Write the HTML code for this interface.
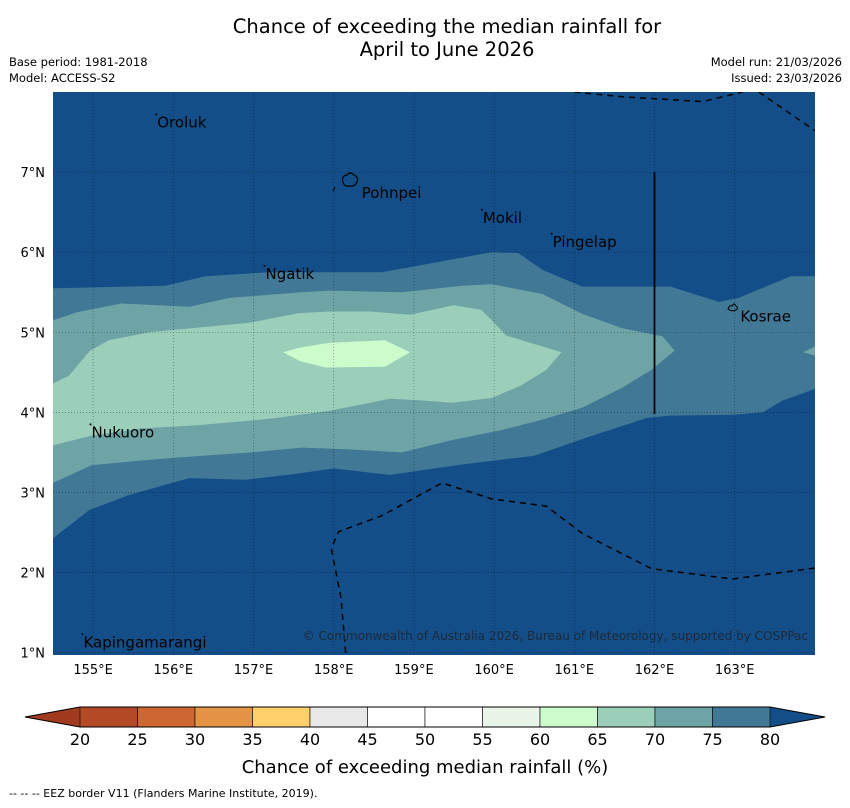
<!DOCTYPE html>
<html><head><meta charset="utf-8"><style>
body{margin:0;background:#fff;font-family:"DejaVu Sans","Liberation Sans",sans-serif;}
svg text{font-family:"DejaVu Sans","Liberation Sans",sans-serif;}
</style></head><body>
<svg id="c" width="850" height="804" viewBox="0 0 850 804" xmlns="http://www.w3.org/2000/svg">
<text x="447" y="33" font-size="19.5" text-anchor="middle">Chance of exceeding the median rainfall for</text>
<text x="447" y="56" font-size="19.5" text-anchor="middle">April to June 2026</text>
<text x="9" y="66" font-size="11.5">Base period: 1981-2018</text>
<text x="9" y="82" font-size="11.5">Model: ACCESS-S2</text>
<text x="842" y="66" font-size="11.5" text-anchor="end">Model run: 21/03/2026</text>
<text x="842" y="82" font-size="11.5" text-anchor="end">Issued: 23/03/2026</text>
<defs><clipPath id="mc"><rect x="53" y="92" width="762" height="563"/></clipPath></defs>
<g id="map" clip-path="url(#mc)">
<rect x="53" y="92" width="762" height="563" fill="#144e88"/>
</g>
<g id="axes"></g>
<text x="808" y="640" font-size="12" fill="#1a2a3a" text-anchor="end">© Commonwealth of Australia 2026, Bureau of Meteorology, supported by COSPPac</text>
<g id="cbar"></g>
<text x="425" y="773" font-size="18" text-anchor="middle">Chance of exceeding median rainfall (%)</text>
<text x="9" y="797" font-size="11">--  --  -- EEZ border V11 (Flanders Marine Institute, 2019).</text>
</svg>
<script>
const levels=[20,25,30,35,40,45,50,55,60,65,70,75,80];
const levelColors=["#b34a26","#cd6631","#e39545","#fecf6a","#e8e8e8","#ffffff","#ffffff","#eaf5ea","#ccfccc","#9ccfba","#6fa4a6","#417896"];
const lowColor="#a23a20", highColor="#144e88";
const lonTicks=[155,156,157,158,159,160,161,162,163];
const latTicks=[1,2,3,4,5,6,7];
const band75=[[154.5,5.55],[155.9,5.58],[156.4,5.7],[157.2,5.75],[158.6,5.75],[159.1,5.84],[159.97,6.0],[160.3,5.99],[160.6,5.78],[161.1,5.57],[162.2,5.57],[162.8,5.38],[163.05,5.43],[163.7,5.7],[164.1,5.7],[164.1,4.33],[163.6,4.15],[163.35,4.0],[163.0,3.97],[162.2,3.96],[161.9,3.93],[161.2,3.7],[160.5,3.46],[159.6,3.35],[158.7,3.22],[158.0,3.3],[157.5,3.23],[156.9,3.16],[156.2,3.18],[155.45,2.97],[154.95,2.78],[154.5,2.43]];
const band70=[[154.5,5.15],[154.8,5.25],[155.35,5.36],[156.2,5.32],[156.7,5.43],[157.6,5.5],[157.95,5.52],[158.85,5.5],[159.6,5.58],[159.97,5.6],[160.6,5.48],[161.1,5.23],[161.6,5.05],[162.1,4.95],[162.25,4.77],[161.96,4.53],[161.6,4.31],[161.1,4.06],[160.6,3.91],[160.1,3.78],[159.5,3.66],[158.85,3.5],[158.16,3.54],[157.6,3.56],[156.97,3.5],[156.1,3.44],[155.6,3.4],[154.98,3.34],[154.5,3.12]];
const band70b=[[164.1,4.87],[163.85,4.75],[164.1,4.68]];
const band65=[[154.5,4.36],[154.7,4.46],[154.96,4.77],[155.2,4.9],[155.7,5.0],[156.95,5.12],[157.57,5.24],[157.95,5.26],[158.45,5.26],[158.95,5.22],[159.5,5.34],[159.84,5.28],[159.97,5.15],[160.15,4.96],[160.84,4.75],[160.65,4.53],[160.34,4.34],[159.97,4.18],[159.47,4.12],[159.1,4.15],[158.7,4.17],[157.95,4.02],[157.2,3.92],[156.3,3.84],[155.6,3.8],[154.98,3.71],[154.5,3.59]];
const band60=[[157.37,4.75],[157.58,4.81],[157.95,4.87],[158.64,4.9],[158.95,4.75],[158.64,4.57],[157.9,4.56],[157.58,4.64]];
const eezTop1=[[161.0,8.0],[161.6,7.94],[162.6,7.88],[163.1,8.0]];
const eezTop2=[[163.3,8.0],[164.1,7.45]];
const eezBottom=[[158.15,1.0],[158.09,1.69],[157.97,2.3],[158.06,2.51],[158.6,2.71],[159.35,3.12],[159.97,2.92],[160.65,2.83],[161.1,2.49],[161.96,2.05],[162.97,1.92],[164.1,2.07]];
const islands=[{name:"Oroluk",lon:155.8,lat:7.62},{name:"Pohnpei",lon:158.35,lat:6.74},{name:"Mokil",lon:159.86,lat:6.43},{name:"Pingelap",lon:160.73,lat:6.13},{name:"Ngatik",lon:157.15,lat:5.73},{name:"Kosrae",lon:163.07,lat:5.2},{name:"Nukuoro",lon:154.98,lat:3.75},{name:"Kapingamarangi",lon:154.88,lat:1.13}];
const NS="http://www.w3.org/2000/svg";
const X=lon=>53+(lon-154.5)*80.2;
const Y=lat=>92+(8-lat)*80.1;
function mk(tag,attrs,parent){const e=document.createElementNS(NS,tag);for(const k in attrs)e.setAttribute(k,attrs[k]);parent.appendChild(e);return e;}
const map=document.getElementById('map');
const pts=a=>a.map(p=>X(p[0]).toFixed(1)+','+Y(p[1]).toFixed(1)).join(' ');
[[band75,levelColors[11],'contour-75'],[band70,levelColors[10],'contour-70'],[band70b,levelColors[10],'contour-70-east'],[band65,levelColors[9],'contour-65'],[band60,levelColors[8],'contour-60']].forEach(b=>{
 const p=mk('polygon',{points:pts(b[0]),fill:b[1]},map);
 
 
});
lonTicks.forEach(l=>{const g=mk('line',{x1:X(l),x2:X(l),y1:92,y2:655,stroke:'#000','stroke-opacity':0.45,'stroke-width':0.7,'stroke-dasharray':'1,2'},map);
 
 });
latTicks.forEach(l=>{const g=mk('line',{x1:53,x2:815,y1:Y(l),y2:Y(l),stroke:'#000','stroke-opacity':0.45,'stroke-width':0.7,'stroke-dasharray':'1,2'},map);
 
 });
[eezTop1,eezTop2,eezBottom].forEach(a=>{const e=mk('polyline',{points:pts(a),fill:'none',stroke:'#000','stroke-width':1.5,'stroke-dasharray':'6,5'},map);
 
 });
const vl=mk('line',{x1:X(162),x2:X(162),y1:Y(7),y2:Y(3.98),stroke:'#000','stroke-width':1.8},map);


const pn=mk('path',{d:'M343,182 q-2,-6 4,-7 q3,-4 7,0 q5,2 3,7 q-2,5 -7,4 q-6,1 -7,-4z',fill:'none',stroke:'#000','stroke-width':1.2},map);


const pd=mk('line',{x1:335,y1:187,x2:333,y2:191,stroke:'#000','stroke-width':1.2},map);


const ks=mk('path',{d:'M728,309 q1,-4 4,-3 q2,-4 4,0 q3,2 0,4 q-4,2 -8,-1z',fill:'none',stroke:'#000','stroke-width':1},map);


islands.forEach(s=>{
 if(s.name!=="Pohnpei"&&s.name!=="Kosrae"){
 const d=mk('circle',{cx:X(s.lon)-1,cy:Y(s.lat)-8,r:1,fill:'#000'},map);
 
 }
 const t=mk('text',{x:X(s.lon),y:Y(s.lat)+5,'font-size':15,fill:'#000'},map);
 t.textContent=s.name;
 
 
});
const ax=document.getElementById('axes');
lonTicks.forEach(l=>{const t=mk('text',{x:X(l),y:674,'font-size':13,'text-anchor':'middle'},ax);t.textContent=l+'°E';
 
 });
latTicks.forEach(l=>{const t=mk('text',{x:45,y:Y(l)+5,'font-size':13,'text-anchor':'end'},ax);t.textContent=l+'°N';
 
 });
const cb=document.getElementById('cbar');
const cx0=80,cx1=770,cy0=707,cy1=727,w=(cx1-cx0)/levelColors.length;
const lt=mk('polygon',{points:`${cx0},${cy0} ${cx0},${cy1} 25,717`,fill:lowColor},cb);


const rt=mk('polygon',{points:`${cx1},${cy0} ${cx1},${cy1} 825,717`,fill:highColor},cb);


levelColors.forEach((c,i)=>{const r=mk('rect',{x:cx0+i*w,y:cy0,width:w,height:cy1-cy0,fill:c,stroke:'#000','stroke-width':0.6},cb);
 
 });
mk('polygon',{points:`25,717 ${cx0},${cy0} ${cx1},${cy0} 825,717 ${cx1},${cy1} ${cx0},${cy1}`,fill:'none',stroke:'#000','stroke-width':1},cb);
levels.forEach((v,i)=>{const t=mk('text',{x:cx0+i*w,y:745,'font-size':16,'text-anchor':'middle'},cb);t.textContent=v;
 
 });
</script>
</body></html>
